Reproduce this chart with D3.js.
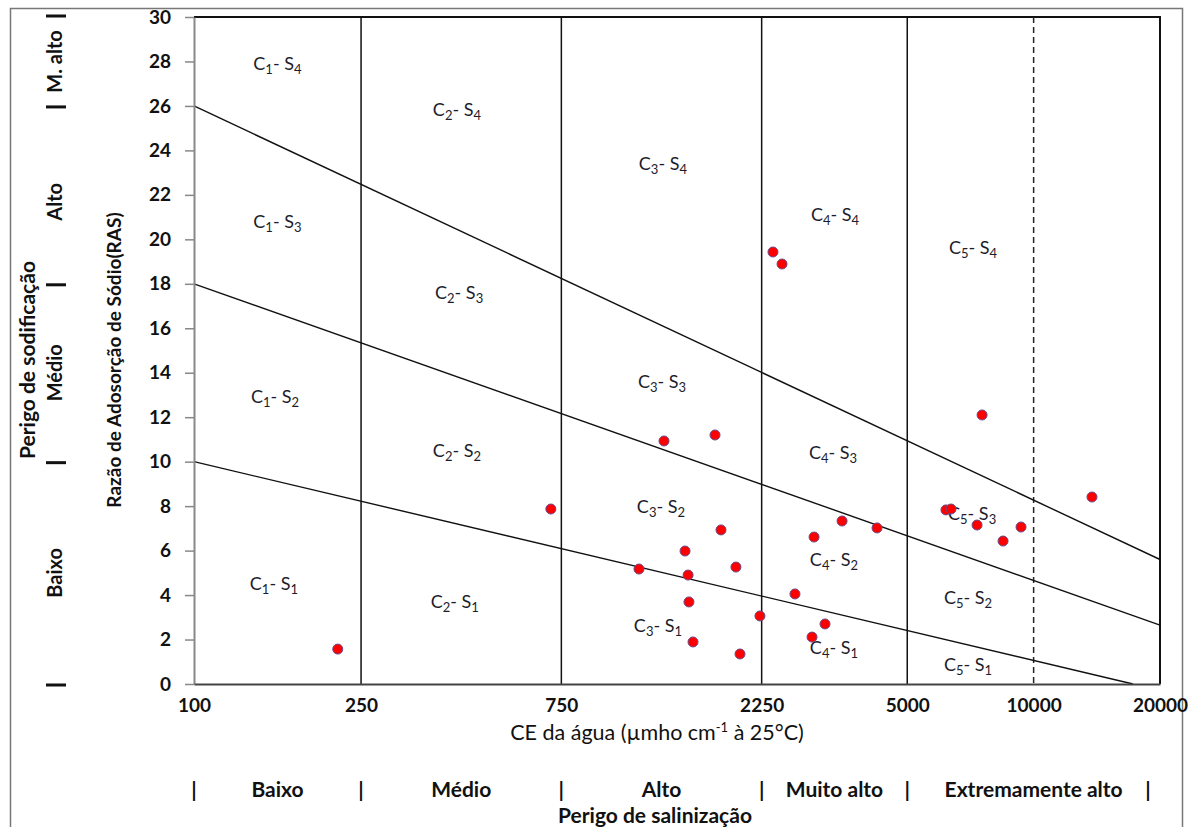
<!DOCTYPE html>
<html>
<head>
<meta charset="utf-8">
<script src="https://cdn.jsdelivr.net/npm/d3@7"></script>
<style>
  body { margin: 0; background: #fff; }
  svg { display: block; font-family: Lato, "Open Sans", sans-serif; }
</style>
</head>
<body>
<svg id="chart"></svg>
<script>
// tick values
const ceTicks = [100, 250, 750, 2250, 5000, 10000, 20000];
const rasTicks = [0, 2, 4, 6, 8, 10, 12, 14, 16, 18, 20, 22, 24, 26, 28, 30];

// samples (CE in µmho/cm, RAS)
const ceSamples = [220, 708, 1148, 1317, 1478, 1503, 1510, 1544, 1742, 1800, 1954, 1998, 2229, 2394,
  2516, 2701, 2966, 2999, 3185, 3497, 4236, 6183, 6357, 7332, 7537, 8456, 9333, 13772];
const rasSamples = [1.57, 7.87, 5.17, 10.93, 5.98, 4.9, 3.69, 1.89, 11.2, 6.93, 5.26, 1.35, 3.06, 19.43,
  18.89, 4.05, 2.11, 6.61, 2.7, 7.33, 7.02, 7.83, 7.87, 7.15, 12.1, 6.43, 7.06, 8.41];

// sodicity class boundary lines [CE, RAS]
const lineS1S2 = [[100, 10], [17250, 0]];
const lineS2S3 = [[100, 18], [20000, 2.65]];
const lineS3S4 = [[100, 26], [20000, 5.6]];

// salinity classes
const salinityBounds = [100, 250, 750, 2250, 5000, 20000];
const salinityLabels = ["Baixo", "Médio", "Alto", "Muito alto", "Extremamente alto"];
const dashedBound = 10000;

// sodicity classes
const sodicityBounds = [0, 10, 18, 26, 30];
const sodicityLabels = ["Baixo", "Médio", "Alto", "M. alto"];

// zone names and where they sit (CE, RAS)
const zoneC = [1, 2, 3, 4, 5, 1, 2, 3, 4, 5, 1, 2, 3, 4, 5, 1, 2, 3, 4, 5];
const zoneS = [4, 4, 4, 4, 4, 3, 3, 3, 3, 3, 2, 2, 2, 2, 2, 1, 1, 1, 1, 1];
const zoneCE = [158, 423, 1309, 3365, 7172, 158, 428, 1303, 3327, 7136, 156, 423, 1295, 3345, 6980, 155, 418, 1274, 3345, 6980];
const zoneRAS = [27.9, 25.8, 23.4, 21.1, 19.6, 20.8, 17.6, 13.6, 10.4, 7.65, 12.9, 10.5, 7.96, 5.58, 3.87, 4.5, 3.69, 2.61, 1.62, 0.85];

const width = 1188, height = 827;
const svg = d3.select("#chart").attr("width", width).attr("height", height);

// outer frame
svg.append("rect")
  .attr("x", 10.5).attr("y", 8.5)
  .attr("width", 1172).attr("height", 840)
  .attr("fill", "none").attr("stroke", "#777").attr("stroke-width", 1.5);

const x = d3.scaleLog().domain([100, 20000]).range([194, 1160]);
const y = d3.scaleLinear().domain([0, 30]).range([684, 17]);

// plot border top / right
svg.append("path")
  .attr("d", `M${x(100)},${y(30)}H${x(20000)}V${y(0)}`)
  .attr("fill", "none").attr("stroke", "#111").attr("stroke-width", 2);

// salinity class verticals
svg.append("g")
  .selectAll("line")
  .data(salinityBounds.slice(1, -1))
  .join("line")
  .attr("x1", d => x(d)).attr("x2", d => x(d))
  .attr("y1", y(30)).attr("y2", y(0))
  .attr("stroke", "#111").attr("stroke-width", 1.5);

svg.append("line")
  .attr("x1", x(dashedBound)).attr("x2", x(dashedBound))
  .attr("y1", y(30)).attr("y2", y(0))
  .attr("stroke", "#222").attr("stroke-width", 1.5)
  .attr("stroke-dasharray", "6,4");

// sodicity boundary lines
const line = d3.line().x(d => x(d[0])).y(d => y(d[1]));
svg.append("g")
  .selectAll("path")
  .data([lineS1S2, lineS2S3, lineS3S4])
  .join("path")
  .attr("d", line)
  .attr("fill", "none").attr("stroke", "#111").attr("stroke-width", 1.4);

// axes
const yAxis = svg.append("g")
  .attr("transform", `translate(${x(100)},0)`)
  .call(d3.axisLeft(y).tickValues(rasTicks).tickSize(9).tickSizeOuter(0).tickPadding(14));
yAxis.select(".domain").attr("stroke", "#888").attr("stroke-width", 2);
yAxis.selectAll(".tick line").attr("stroke", "#888").attr("stroke-width", 1.5);
yAxis.selectAll("text")
  .attr("font-size", 19).attr("font-weight", "bold").attr("fill", "#111")
  .attr("font-family", "Lato, sans-serif");

const xAxis = svg.append("g")
  .attr("transform", `translate(0,${y(0)})`)
  .call(d3.axisBottom(x).tickValues(ceTicks).tickFormat(d3.format("d")).tickSize(0).tickSizeOuter(0).tickPadding(15));
xAxis.select(".domain").attr("stroke", "#444").attr("stroke-width", 2);
xAxis.selectAll("text")
  .attr("font-size", 19).attr("font-weight", "bold").attr("fill", "#111")
  .attr("font-family", "Lato, sans-serif");

// zone labels
const zones = svg.append("g")
  .selectAll("text")
  .data(zoneC.map((c, i) => ({ c, s: zoneS[i], ce: zoneCE[i], ras: zoneRAS[i] })))
  .join("text")
  .attr("x", d => x(d.ce))
  .attr("y", d => y(d.ras) + 6)
  .attr("text-anchor", "middle")
  .attr("font-size", 18)
  .attr("fill", "#1c1c2c");
zones.append("tspan").text("C");
zones.append("tspan").attr("dy", 4).attr("font-size", 13).text(d => d.c);
zones.append("tspan").attr("dy", -4).text("- S");
zones.append("tspan").attr("dy", 4).attr("font-size", 13).text(d => d.s);

// samples
svg.append("g")
  .selectAll("circle")
  .data(ceSamples.map((ce, i) => [ce, rasSamples[i]]))
  .join("circle")
  .attr("cx", d => x(d[0]))
  .attr("cy", d => y(d[1]))
  .attr("r", 5)
  .attr("fill", "#ff0000")
  .attr("stroke", "#6a4a8a")
  .attr("stroke-width", 1);

// x axis title
const xTitle = svg.append("text")
  .attr("x", 657).attr("y", 740)
  .attr("text-anchor", "middle")
  .attr("font-size", 21.5).attr("fill", "#111");
xTitle.append("tspan").text("CE da água (µmho cm");
xTitle.append("tspan").attr("dy", -8).attr("font-size", 13).text("-1");
xTitle.append("tspan").attr("dy", 8).text(" à 25°C)");

// salinity hazard row
const salRow = svg.append("g")
  .attr("font-size", 21).attr("font-weight", "bold").attr("fill", "#111")
  .attr("text-anchor", "middle");
salRow.selectAll("text.bar")
  .data(salinityBounds)
  .join("text")
  .attr("class", "bar")
  .attr("x", d => x(d) + (d === 20000 ? -12 : 0))
  .attr("y", 797)
  .text("|");
salRow.selectAll("text.lab")
  .data(salinityLabels)
  .join("text")
  .attr("class", "lab")
  .attr("x", (d, i) => (x(salinityBounds[i]) + x(salinityBounds[i + 1])) / 2)
  .attr("y", 797)
  .text(d => d);
salRow.append("text")
  .attr("x", 655).attr("y", 823)
  .text("Perigo de salinização");

// sodicity hazard column
const sod = svg.append("g");
sod.selectAll("line")
  .data(sodicityBounds)
  .join("line")
  .attr("x1", 46).attr("x2", 66)
  .attr("y1", d => y(d) + (d === 30 ? -1 : 1)).attr("y2", d => y(d) + (d === 30 ? -1 : 1))
  .attr("stroke", "#111").attr("stroke-width", 3);
sod.selectAll("text")
  .data(sodicityLabels)
  .join("text")
  .attr("transform", (d, i) => `translate(54,${y((sodicityBounds[i] + sodicityBounds[i + 1]) / 2) + (d === "Alto" ? 7 : 0)}) rotate(-90)`)
  .attr("text-anchor", "middle")
  .attr("dominant-baseline", "central")
  .attr("font-size", 20).attr("font-weight", "bold").attr("fill", "#111")
  .text(d => d);

svg.append("text")
  .attr("transform", "translate(26,360) rotate(-90)")
  .attr("text-anchor", "middle")
  .attr("dominant-baseline", "central")
  .attr("font-size", 21).attr("font-weight", "bold").attr("fill", "#111")
  .text("Perigo de sodificação");

svg.append("text")
  .attr("transform", "translate(113,360) rotate(-90)")
  .attr("text-anchor", "middle")
  .attr("dominant-baseline", "central")
  .attr("font-size", 19).attr("font-weight", "bold").attr("fill", "#111")
  .text("Razão de Adosorção de Sódio(RAS)");
</script>
</body>
</html>
